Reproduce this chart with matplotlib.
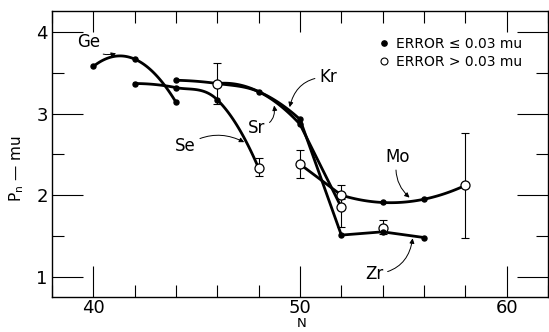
import numpy as np
import matplotlib
matplotlib.use("Agg")
import matplotlib.pyplot as plt
from matplotlib.lines import Line2D

plt.rcParams['font.family'] = ['DejaVu Sans']

# data (N, P_n in mu)
ge_n = [40, 42, 44]
ge_p = [3.58, 3.67, 3.14]

se_n = [42, 44, 46, 48]
se_p = [3.37, 3.32, 3.17, 2.33]

kr_n = [44, 46, 48, 50, 52]
kr_p = [3.41, 3.37, 3.27, 2.93, 1.51]

sr_n = [46, 48, 50, 52]
sr_p = [3.37, 3.27, 2.87, 1.85]

mo_n = [50, 52, 54, 56, 58]
mo_p = [2.38, 2.00, 1.91, 1.95, 2.12]

zr_n = [52, 54, 56]
zr_p = [1.51, 1.55, 1.48]

# error <= 0.03 mu
closed_n = [40, 42, 44, 42, 44, 46, 44, 48, 50, 50, 52, 54, 56, 54, 56]
closed_p = [3.58, 3.67, 3.14, 3.37, 3.32, 3.17, 3.41, 3.27, 2.93, 2.87, 1.51, 1.55, 1.48, 1.91, 1.95]

# error > 0.03 mu
open_n = [46, 48, 50, 52, 52, 54, 58]
open_p = [3.37, 2.33, 2.38, 2.00, 1.85, 1.60, 2.12]
open_lo = [0.25, 0.10, 0.17, 0.13, 0.24, 0.08, 0.64]
open_hi = [0.25, 0.12, 0.17, 0.13, 0.10, 0.09, 0.64]


def smooth(xs, ys, n=40):
    # catmull-rom through the points, quadratic end extension
    x = np.asarray(xs, float)
    y = np.asarray(ys, float)
    if len(x) < 3:
        return x, y
    px = np.concatenate([[3*x[0]-3*x[1]+x[2]], x, [3*x[-1]-3*x[-2]+x[-3]]])
    py = np.concatenate([[3*y[0]-3*y[1]+y[2]], y, [3*y[-1]-3*y[-2]+y[-3]]])
    t = np.linspace(0, 1, n)
    ox, oy = [], []
    for i in range(1, len(px)-2):
        for p, o in ((px, ox), (py, oy)):
            p0, p1, p2, p3 = p[i-1], p[i], p[i+1], p[i+2]
            o.append(0.5*(2*p1 + (-p0+p2)*t + (2*p0-5*p1+4*p2-p3)*t**2
                          + (-p0+3*p1-3*p2+p3)*t**3))
    return np.concatenate(ox), np.concatenate(oy)


fig = plt.figure(figsize=(5.49, 3.32), dpi=100)
ax = fig.add_axes([0.0947, 0.1054, 0.9035, 0.8614])

lw = 2.0
ax.plot(*smooth(ge_n, ge_p), color='black', lw=lw)
ax.plot(*smooth(se_n, se_p), color='black', lw=lw)
ax.plot(*smooth(kr_n[:4], kr_p[:4]), color='black', lw=lw)
ax.plot(kr_n[3:], kr_p[3:], color='black', lw=lw)
ax.plot(*smooth(sr_n[:3], sr_p[:3]), color='black', lw=lw)
ax.plot(sr_n[2:], sr_p[2:], color='black', lw=lw)
ax.plot(mo_n[:2], mo_p[:2], color='black', lw=lw)
ax.plot(*smooth(mo_n[1:], mo_p[1:]), color='black', lw=lw)
ax.plot(zr_n, zr_p, color='black', lw=lw)

ax.errorbar(open_n, open_p, yerr=[open_lo, open_hi], fmt='none',
            ecolor='black', elinewidth=0.8, capsize=3, capthick=0.8, zorder=3)
ax.plot(open_n, open_p, 'o', ms=6.5, mfc='white', mec='black', mew=0.9, zorder=4)
ax.plot(closed_n, closed_p, 'o', ms=3.6, color='black', zorder=5)

ax.set_xlim(38, 62)
ax.set_ylim(0.75, 4.26)
ax.set_xticks([40, 50, 60])
ax.set_xticks(np.arange(38, 63, 2), minor=True)
ax.set_yticks([1, 2, 3, 4])
ax.set_yticks([1.5, 2.5, 3.5], minor=True)
ax.tick_params(which='both', direction='in', top=True, right=True,
               width=0.8, labelsize=13, pad=3)
ax.tick_params(axis='x', pad=1.5)
ax.tick_params(which='major', length=22)
ax.tick_params(which='minor', length=8.5)
for t in ax.xaxis.get_major_ticks():
    t.tick2line.set_markersize(15)
for s in ax.spines.values():
    s.set_linewidth(1.0)

ax.set_xlabel('N', fontsize=9.5, va='bottom')
ax.xaxis.set_label_coords(0.504, -0.117)
ax.set_ylabel(r'P$_\mathregular{n}$ — mu', fontsize=11)
ax.yaxis.set_label_coords(-0.052, 0.45)

# curve labels with leader arrows
aprops = dict(arrowstyle='-|>', lw=0.7, color='black', mutation_scale=7,
              shrinkA=1, shrinkB=0)
ax.annotate('Ge', xy=(41.1, 3.74), xytext=(39.78, 3.88), fontsize=12,
            ha='center', va='center',
            arrowprops=dict(aprops, connectionstyle='arc3,rad=0.4'))
ax.annotate('Se', xy=(47.3, 2.65), xytext=(44.46, 2.6), fontsize=12,
            ha='center', va='center',
            arrowprops=dict(aprops, connectionstyle='arc3,rad=-0.3'))
ax.annotate('Sr', xy=(48.75, 3.1), xytext=(47.92, 2.83), fontsize=12,
            ha='center', va='center',
            arrowprops=dict(aprops, connectionstyle='arc3,rad=0.5'))
ax.annotate('Kr', xy=(49.5, 3.08), xytext=(51.35, 3.45), fontsize=12,
            ha='center', va='center',
            arrowprops=dict(aprops, connectionstyle='arc3,rad=0.4'))
ax.annotate('Mo', xy=(55.3, 1.97), xytext=(54.72, 2.47), fontsize=12,
            ha='center', va='center',
            arrowprops=dict(aprops, connectionstyle='arc3,rad=0.3'))
ax.annotate('Zr', xy=(55.45, 1.47), xytext=(53.6, 1.03), fontsize=12,
            ha='center', va='center',
            arrowprops=dict(aprops, connectionstyle='arc3,rad=0.4'))

handles = [Line2D([], [], ls='none', marker='o', ms=3.8, color='black'),
           Line2D([], [], ls='none', marker='o', ms=5, mfc='white',
                  mec='black', mew=0.8)]
ax.legend(handles, ['ERROR ≤ 0.03 mu', 'ERROR > 0.03 mu'], loc='upper right',
          bbox_to_anchor=(0.965, 0.94), frameon=False, fontsize=10,
          handlelength=0.8, handletextpad=0.5, labelspacing=0.3,
          borderaxespad=0.2)

fig.savefig('out.png', dpi=100)
